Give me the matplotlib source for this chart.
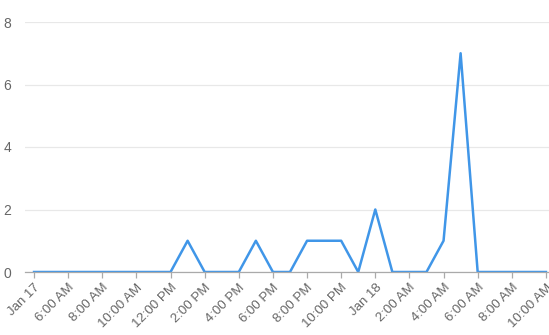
import matplotlib
matplotlib.use('Agg')
import matplotlib.pyplot as plt

plt.rcParams['font.family'] = ['Liberation Sans', 'DejaVu Sans']

# hourly counts, starting Jan 17 4:00 AM and ending Jan 18 10:00 AM
hours = list(range(31))
counts = [0, 0, 0, 0, 0, 0, 0, 0, 0, 1, 0, 0, 0, 1, 0, 0, 1, 1, 1, 0,
          2, 0, 0, 0, 1, 7, 0, 0, 0, 0, 0]

tick_hours = list(range(0, 31, 2))
tick_labels = ['Jan 17', '6:00 AM', '8:00 AM', '10:00 AM', '12:00 PM', '2:00 PM',
               '4:00 PM', '6:00 PM', '8:00 PM', '10:00 PM', 'Jan 18', '2:00 AM',
               '4:00 AM', '6:00 AM', '8:00 AM', '10:00 AM']
y_ticks = [0, 2, 4, 6, 8]

fig = plt.figure(figsize=(5.49, 3.35), dpi=100)
ax = fig.add_axes([25 / 549, 63 / 335, 524 / 549, 250 / 335])

ax.plot(hours, counts, color='#4096e8', linewidth=1.8)

ax.set_xlim(-0.53, 30.18)
ax.set_ylim(0, 8)
ax.set_yticks(y_ticks)
ax.set_xticks(tick_hours)
ax.set_xticklabels(tick_labels, rotation=45, ha='right', rotation_mode='anchor')

ax.grid(axis='y', color='#e8e8e8', linewidth=0.9)
ax.set_axisbelow(True)
for side in ['top', 'right', 'left']:
    ax.spines[side].set_visible(False)
ax.spines['bottom'].set_color('#aaaaaa')
ax.spines['bottom'].set_linewidth(0.9)

ax.tick_params(axis='x', colors='#aaaaaa', length=4, width=0.9, labelcolor='#666666',
               labelsize=9.5, pad=3)
ax.tick_params(axis='y', length=0, labelcolor='#666666', labelsize=10, pad=10)

fig.savefig('out.png', dpi=100)
